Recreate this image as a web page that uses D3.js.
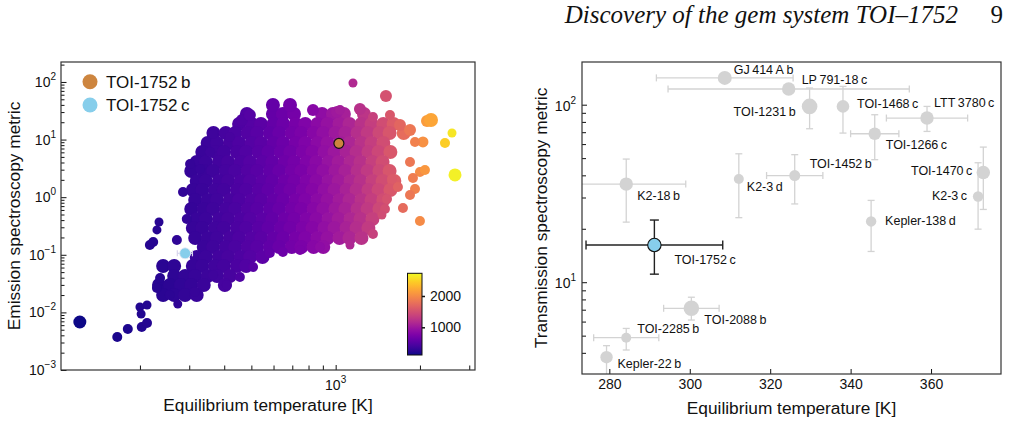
<!DOCTYPE html>
<html>
<head>
<meta charset="utf-8">
<script src="https://cdn.jsdelivr.net/npm/d3@7"></script>
<style>
body{margin:0;background:#fff;}
svg{display:block;font-family:"Liberation Sans",Arial,sans-serif;}
</style>
</head>
<body>
<svg id="fig" width="1015" height="421"></svg>
<script>
// ---- left panel: known planets, emission metric vs Teq
// dense part of the population, one ESM value per row and the Teq values on it
var rowEsm = [27.8, 18.7, 13.0, 8.73, 6.09, 4.08, 2.85, 1.91, 1.33, 0.894, 0.624, 0.418, 0.292, 0.196, 0.1366, 0.0916, 0.064, 0.0429, 0.0299, 0.02];
var rowTeq = [
  [482, 597, 648, 710, 894, 978, 1070, 1262],
  [452, 501, 541, 600, 650, 720, 779, 861, 935, 1032, 1120, 1236, 1343, 1480, 1610],
  [366, 405, 438, 485, 524, 582, 629, 697, 754, 834, 903, 998, 1083, 1197, 1300, 1433, 1558, 1750],
  [349, 377, 419, 452, 501, 542, 600, 650, 720, 779, 861, 935, 1032, 1120, 1236, 1343, 1480],
  [334, 371, 399, 444, 479, 531, 575, 637, 689, 762, 826, 912, 990, 1093, 1187, 1309, 1422, 1568],
  [319, 344, 383, 413, 458, 495, 548, 594, 658, 712, 787, 853, 943, 1024, 1130, 1226, 1353, 1471],
  [305, 338, 365, 405, 438, 485, 524, 582, 629, 697, 754, 834, 903, 998, 1083, 1197, 1300, 1433, 1558],
  [319, 344, 383, 413, 458, 495, 548, 594, 658, 712, 787, 853, 943, 1024, 1130, 1226, 1353, 1471, 1620],
  [309, 334, 371, 399, 444, 479, 531, 575, 637, 689, 762, 826, 912, 990, 1093, 1187, 1309, 1422, 1568],
  [315, 349, 377, 419, 452, 501, 542, 600, 650, 720, 779, 861, 935, 1032, 1120, 1236, 1343, 1480],
  [305, 338, 365, 405, 438, 485, 524, 582, 629, 697, 754, 834, 903, 998, 1083, 1197, 1300, 1433],
  [319, 344, 383, 413, 458, 495, 548, 594, 658, 712, 787, 853, 943, 1024, 1130, 1226, 1353],
  [309, 334, 371, 399, 444, 479, 531, 575, 637, 689, 762, 826, 912, 990, 1093, 1187, 1309],
  [315, 349, 377, 419, 452, 501, 542, 600, 650, 720, 779, 861, 935, 1032, 1120, 1236],
  [338, 365, 405, 438, 485, 524, 582, 629, 697, 754, 834, 903],
  [319, 344, 383, 413, 458, 495, 548],
  [242, 265, 309, 334, 371, 399, 444, 479],
  [265, 290, 315, 349, 377, 419],
  [234, 256, 280, 305, 338, 402],
  [242, 265, 290, 319]
];
var rowRadius = 3.5;   // planet radius (R_earth) used for the dense part

// scattered planets round the edge of the population
var edgeTeq = [597, 687, 830, 1011, 463, 494, 1153, 1512, 1036, 1221, 1359, 1563, 1697, 1843, 2119, 2190, 2603, 2457, 2668, 2050,
  1920, 1843, 2000, 2084, 1888, 1920, 1843, 1739, 2000, 1669, 1589, 1525, 1500, 1463, 1359, 1125,
  365, 419, 356, 302, 328, 285, 294, 271, 230, 234, 217, 223, 230, 236, 242, 256, 273, 200, 212, 202, 181, 203, 212, 166, 122, 314,
  409, 455, 507, 582, 648, 746, 879, 365];
var edgeEsm = [39.9, 39.9, 32.7, 30.1, 21.9, 26.7, 96.1, 57.1, 32.7, 34.0, 24.7, 26.7, 17.9, 14.7, 21.0, 21.9, 13.0, 8.73, 2.43, 9.08,
  9.08, 4.08, 2.74, 2.97, 2.15, 1.39, 1.09, 0.649, 0.386, 1.50, 2.07, 0.930, 0.624, 0.491, 0.230, 0.148,
  12.5, 11.1, 6.09, 3.77, 3.09, 1.23, 0.418, 0.181, 0.27, 0.371, 0.148, 0.167, 0.0265, 0.0396, 0.0614, 0.02, 0.014, 0.0124, 0.01344, 0.00938, 0.00515, 0.00558, 0.00655, 0.00374, 0.00681, 0.0226,
  0.0299, 0.0412, 0.0614, 0.1075, 0.112, 0.121, 0.1366, 0.0446];
var edgeRadius = [3.5, 3.5, 2.5, 2.5, 2.5, 2.5, 1.0, 2.5, 1.5, 2.5, 1.5, 1.5, 2.5, 2.5, 2.5, 3.5, 1.0, 1.5, 3.0, 2.0,
  1.5, 1.5, 1.5, 1.5, 1.5, 1.5, 1.5, 1.5, 1.5, 1.5, 1.5, 1.5, 1.5, 1.0, 1.5, 1.0,
  1.5, 1.5, 1.5, 1.5, 1.5, 1.5, 1.5, 1.5, 1.0, 1.0, 1.5, 1.5, 1.5, 1.5, 1.5, 1.5, 1.0, 1.0, 1.0, 1.0, 1.5, 1.5, 1.5, 1.5, 3.0, 1.5,
  1.5, 1.5, 1.5, 1.5, 1.5, 1.5, 1.5, 1.5];

var toiB = {name: 'TOI-1752\u2009b', teq: 1027, esm: 8.6};
var toiC = {name: 'TOI-1752\u2009c', teq: 290, teqErr: 18, esm: 0.106};
var cbTicks = [1000, 2000];
var leftMajor = [1e-3, 1e-2, 1e-1, 1, 10, 100];

// ---- right panel: transmission metric of temperate planets
var tsmNames = ['GJ\u2009414\u2009A\u2009b', 'LP\u2009791-18\u2009c', 'TOI-1231\u2009b', 'TOI-1468\u2009c', 'LTT\u20093780\u2009c', 'TOI-1266\u2009c',
  'TOI-1452\u2009b', 'K2-3\u2009d', 'K2-18\u2009b', 'TOI-1470\u2009c', 'K2-3\u2009c', 'Kepler-138\u2009d', 'TOI-1752\u2009c', 'TOI-2088\u2009b',
  'TOI-2285\u2009b', 'Kepler-22\u2009b'];
var tsmTeq    = [308.7, 324.6, 329.8, 338.1, 359.0, 346.0, 326.1, 312.2, 284.2, 373.0, 371.7, 345.1, 291.2, 300.4, 284.2, 279.3];
var tsmTeqErr = [17, 30, 0, 0, 10.1, 6, 7, 0, 14.8, 0, 0, 0, 17, 6.9, 8.1, 0];
var tsmVal    = [141.6, 122.6, 97.8, 97.8, 84.1, 68.6, 39.9, 38.1, 35.7, 41.5, 30.4, 22.0, 16.2, 7.13, 4.87, 3.78];
var tsmLo     = [141.6, 122.6, 73.2, 69.2, 70.7, 49.0, 27.6, 23.1, 21.8, 25.7, 19.9, 14.9, 11.1, 6.12, 4.15, 2.81];
var tsmHi     = [141.6, 122.6, 124.2, 126.8, 97.8, 87.8, 52.3, 52.9, 49.4, 57.7, 47.1, 28.9, 22.4, 8.23, 5.49, 4.39];
var tsmRadius = [3.07, 2.84, 3.7, 2.52, 2.84, 2.44, 1.9, 1.5, 2.84, 2.84, 1.66, 1.66, 2.84, 3.7, 1.5, 2.44];
var rightXTicks = [280, 300, 320, 340, 360];
var rightMajor = [10, 100];

// where each name sits next to its point (px offset, text anchor)
var labelPlace = [[9, -8, 'start'], [13, -9, 'start'], [-14, 5, 'end'], [14, -3, 'start'], [7, -16, 'start'], [11, 11, 'start'],
  [15, -12, 'start'], [8, 7, 'start'], [11, 11, 'start'], [-11, -2, 'end'], [-11, -1, 'end'], [14, -1, 'start'],
  [20, 14, 'start'], [13, 11, 'start'], [11, -9, 'start'], [11, 6, 'start']];

var svg = d3.select('#fig');
var FRAME = '#333';
var TITLE = 17.3;

function minorLog(lo, hi) {
  var out = [];
  for (var p = Math.floor(Math.log10(lo)); p <= Math.ceil(Math.log10(hi)); p++)
    for (var k = 2; k < 10; k++) {
      var v = k * Math.pow(10, p);
      if (v > lo && v < hi) out.push(v);
    }
  return out;
}
function powLabel(g, x, y, exp, anchor) {
  var t = g.append('text').attr('x', x).attr('y', y).attr('text-anchor', anchor).attr('font-size', 14).attr('fill', '#111');
  t.append('tspan').text('10');
  t.append('tspan').attr('dy', -7).attr('font-size', 10).text(exp < 0 ? '\u2212' + (-exp) : exp);
}

// ================= left panel
var L = {x0: 61, x1: 475, y0: 62, y1: 370};
var xL = d3.scaleLog().domain([104.5, 3145]).range([L.x0, L.x1]);
var yL = d3.scaleLog().domain([1e-3, 222]).range([L.y1, L.y0]);
var col = d3.scaleSequential(d3.interpolatePlasma).domain([115, 2725]);
var rL = d3.scaleLinear().domain([1, 3.5]).range([4.5, 7]);

var defs = svg.append('defs');
defs.append('clipPath').attr('id', 'clipL').append('rect')
  .attr('x', L.x0).attr('y', L.y0).attr('width', L.x1 - L.x0).attr('height', L.y1 - L.y0);

var cloud = [];
rowEsm.forEach(function(e, i) {
  rowTeq[i].forEach(function(t) { cloud.push({t: t, e: e, rad: rowRadius}); });
});
edgeTeq.forEach(function(t, i) { cloud.push({t: t, e: edgeEsm[i], rad: edgeRadius[i]}); });

var gL = svg.append('g');
gL.append('g').attr('clip-path', 'url(#clipL)')
  .selectAll('circle').data(cloud).enter().append('circle')
  .attr('cx', function(d) { return xL(d.t); })
  .attr('cy', function(d) { return yL(d.e); })
  .attr('r', function(d) { return rL(d.rad); })
  .attr('fill', function(d) { return col(d.t); });

// TOI-1752 c with its small error bar
var cy = yL(toiC.esm);
gL.append('line').attr('x1', xL(toiC.teq - toiC.teqErr)).attr('x2', xL(toiC.teq + toiC.teqErr))
  .attr('y1', cy).attr('y2', cy).attr('stroke', '#d8d4ec').attr('stroke-width', 1.2);
[toiC.teq - toiC.teqErr, toiC.teq + toiC.teqErr].forEach(function(t) {
  gL.append('line').attr('x1', xL(t)).attr('x2', xL(t)).attr('y1', cy - 3).attr('y2', cy + 3)
    .attr('stroke', '#d8d4ec').attr('stroke-width', 1.2);
});
gL.append('circle').attr('cx', xL(toiC.teq)).attr('cy', cy).attr('r', 5.5)
  .attr('fill', 'skyblue').attr('stroke', '#e8e8f4').attr('stroke-width', 0.8);
gL.append('circle').attr('cx', xL(toiB.teq)).attr('cy', yL(toiB.esm)).attr('r', 5)
  .attr('fill', 'peru').attr('stroke', '#111').attr('stroke-width', 1.2);

// ticks (inward)
gL.append('g').attr('transform', 'translate(0,' + L.y1 + ')')
  .call(d3.axisBottom(xL).tickValues([1000]).tickSize(-5).tickFormat(''));
gL.append('g').attr('transform', 'translate(0,' + L.y1 + ')')
  .call(d3.axisBottom(xL).tickValues(minorLog(104.5, 3145)).tickSize(-4.5).tickFormat(''));
gL.append('g').attr('transform', 'translate(' + L.x0 + ',0)')
  .call(d3.axisLeft(yL).tickValues(leftMajor).tickSize(-5.5).tickFormat(''));
gL.append('g').attr('transform', 'translate(' + L.x0 + ',0)')
  .call(d3.axisLeft(yL).tickValues(minorLog(1e-3, 222)).tickSize(-3.5).tickFormat(''));
gL.selectAll('.domain').remove();
gL.selectAll('.tick line').attr('stroke', '#111');

leftMajor.forEach(function(v) { powLabel(gL, 56, yL(v) + 5, Math.round(Math.log10(v)), 'end'); });
powLabel(gL, xL(1000), L.y1 + 20, 3, 'middle');

gL.append('rect').attr('x', L.x0).attr('y', L.y0).attr('width', L.x1 - L.x0).attr('height', L.y1 - L.y0)
  .attr('fill', 'none').attr('stroke', FRAME).attr('stroke-width', 1.2);

gL.append('text').attr('x', (L.x0 + L.x1) / 2).attr('y', 411).attr('text-anchor', 'middle')
  .attr('font-size', TITLE).attr('fill', '#111').text('Equilibrium temperature [K]');
gL.append('text').attr('transform', 'translate(20,' + ((L.y0 + L.y1) / 2) + ') rotate(-90)')
  .attr('text-anchor', 'middle').attr('font-size', TITLE).attr('fill', '#111').text('Emission spectroscopy metric');

// legend
[[toiB.name, 'peru', 81.7], [toiC.name, 'skyblue', 105]].forEach(function(d) {
  gL.append('circle').attr('cx', 90).attr('cy', d[2]).attr('r', 7.5).attr('fill', d[1]);
  gL.append('text').attr('x', 106).attr('y', d[2]).attr('dy', '0.36em').attr('font-size', 17)
    .attr('fill', '#111').text(d[0]);
});

// colour bar
var CB = {x: 407.5, y: 273.3, w: 14.5, h: 81.7};
var grad = defs.append('linearGradient').attr('id', 'plasma').attr('x1', 0).attr('y1', 1).attr('x2', 0).attr('y2', 0);
d3.range(0, 1.0001, 0.05).forEach(function(s) {
  grad.append('stop').attr('offset', s).attr('stop-color', d3.interpolatePlasma(s));
});
var cbY = d3.scaleLinear().domain(col.domain()).range([CB.y + CB.h, CB.y]);
gL.append('rect').attr('x', CB.x).attr('y', CB.y).attr('width', CB.w).attr('height', CB.h)
  .attr('fill', 'url(#plasma)').attr('stroke', '#111').attr('stroke-width', 1);
var cbAxis = gL.append('g').attr('transform', 'translate(' + (CB.x + CB.w) + ',0)')
  .call(d3.axisRight(cbY).tickValues(cbTicks).tickSize(3).tickPadding(5).tickFormat(d3.format('d')));
cbAxis.select('.domain').remove();
cbAxis.selectAll('.tick line').attr('stroke', '#111').attr('stroke-width', 1.5);
cbAxis.selectAll('text').attr('font-size', 14).attr('fill', '#111').attr('font-family', 'Liberation Sans, Arial, sans-serif');

// ================= right panel
var R = {x0: 582, x1: 1001, y0: 62, y1: 374};
var xR = d3.scaleLinear().domain([273.2, 377.4]).range([R.x0, R.x1]);
var yR = d3.scaleLog().domain([3.04, 174]).range([R.y1, R.y0]);
var rR = d3.scaleLinear().domain([1.5, 3.7]).range([5, 7.8]);

defs.append('clipPath').attr('id', 'clipR').append('rect')
  .attr('x', R.x0).attr('y', R.y0).attr('width', R.x1 - R.x0).attr('height', R.y1 - R.y0);

var gR = svg.append('g');
var plot = gR.append('g').attr('clip-path', 'url(#clipR)');
var GREY = '#d3d3d3';

tsmNames.forEach(function(n, i) {
  var hi = i === 12;
  var c = hi ? '#222' : GREY, cap = hi ? 4.5 : 3.5;
  var px = xR(tsmTeq[i]), py = yR(tsmVal[i]);
  var e = plot.append('g').attr('stroke', c).attr('stroke-width', hi ? 1.4 : 1.3);
  if (tsmTeqErr[i] > 0) {
    var xa = xR(tsmTeq[i] - tsmTeqErr[i]), xb = xR(tsmTeq[i] + tsmTeqErr[i]);
    e.append('line').attr('x1', xa).attr('x2', xb).attr('y1', py).attr('y2', py);
    [xa, xb].forEach(function(x) {
      e.append('line').attr('x1', x).attr('x2', x).attr('y1', py - cap).attr('y2', py + cap);
    });
  }
  if (tsmHi[i] > tsmLo[i]) {
    var ya = yR(tsmHi[i]), yb = yR(tsmLo[i]);
    e.append('line').attr('x1', px).attr('x2', px).attr('y1', ya).attr('y2', yb);
    [ya, yb].forEach(function(y) {
      e.append('line').attr('x1', px - cap).attr('x2', px + cap).attr('y1', y).attr('y2', y);
    });
  }
  plot.append('circle').attr('cx', px).attr('cy', py).attr('r', rR(tsmRadius[i]))
    .attr('fill', hi ? 'skyblue' : GREY)
    .attr('stroke', hi ? '#111' : 'none').attr('stroke-width', 1.1);
});

tsmNames.forEach(function(n, i) {
  var p = labelPlace[i];
  gR.append('text').attr('x', xR(tsmTeq[i]) + p[0]).attr('y', yR(tsmVal[i]) + p[1])
    .attr('dy', '0.36em').attr('text-anchor', p[2]).attr('font-size', 12.5).attr('fill', '#111').text(n);
});

var axB = gR.append('g').attr('transform', 'translate(0,' + R.y1 + ')')
  .call(d3.axisBottom(xR).tickValues(rightXTicks).tickSize(-5).tickPadding(5));
axB.selectAll('text').attr('font-size', 14).attr('fill', '#111').attr('font-family', 'Liberation Sans, Arial, sans-serif');
gR.append('g').attr('transform', 'translate(' + R.x0 + ',0)')
  .call(d3.axisLeft(yR).tickValues(rightMajor).tickSize(-5).tickFormat(''));
gR.append('g').attr('transform', 'translate(' + R.x0 + ',0)')
  .call(d3.axisLeft(yR).tickValues(minorLog(3.04, 174)).tickSize(-4).tickFormat(''));
gR.selectAll('.domain').remove();
gR.selectAll('.tick line').attr('stroke', '#111');
rightMajor.forEach(function(v) { powLabel(gR, 576, yR(v) + 6, Math.round(Math.log10(v)), 'end'); });

gR.append('rect').attr('x', R.x0).attr('y', R.y0).attr('width', R.x1 - R.x0).attr('height', R.y1 - R.y0)
  .attr('fill', 'none').attr('stroke', FRAME).attr('stroke-width', 1.2);

gR.append('text').attr('x', (R.x0 + R.x1) / 2).attr('y', 414).attr('text-anchor', 'middle')
  .attr('font-size', TITLE).attr('fill', '#111').text('Equilibrium temperature [K]');
gR.append('text').attr('transform', 'translate(547,' + ((R.y0 + R.y1) / 2) + ') rotate(-90)')
  .attr('text-anchor', 'middle').attr('font-size', TITLE).attr('fill', '#111').text('Transmission spectroscopy metric');

// running header of the page
svg.append('text').attr('x', 958).attr('y', 23).attr('text-anchor', 'end')
  .attr('font-family', '"Liberation Serif", "Times New Roman", serif').attr('font-style', 'italic')
  .attr('font-size', 25).attr('fill', '#111').text('Discovery of the gem system TOI\u20131752');
svg.append('text').attr('x', 1003).attr('y', 23).attr('text-anchor', 'end')
  .attr('font-family', '"Liberation Serif", "Times New Roman", serif')
  .attr('font-size', 25).attr('fill', '#111').text('9');
</script>
</body>
</html>
